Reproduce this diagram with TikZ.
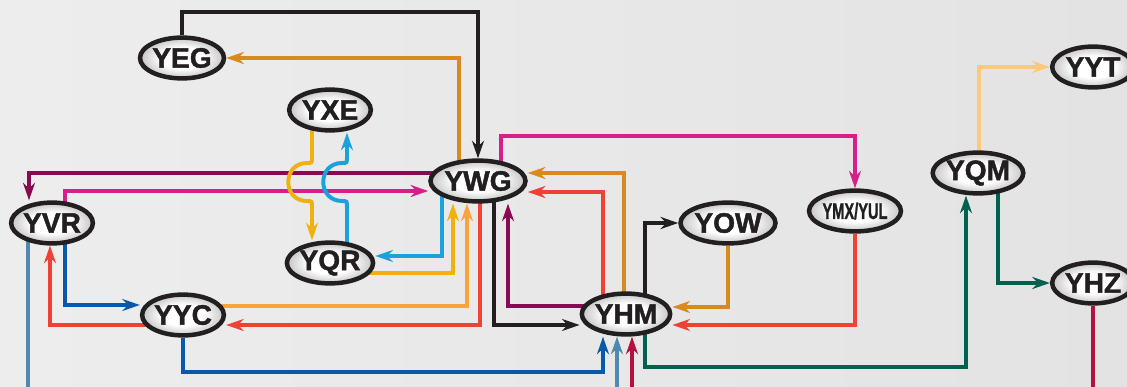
\documentclass[tikz,border=0pt]{standalone}
\usepackage{fontspec}
\setmainfont{Liberation Sans}
\newfontfamily\apfont{Liberation Sans}[BoldFeatures={FakeBold=1.6}]
\usepackage{xcolor}
\usepackage{graphicx}
\usepackage{tikz}
\usetikzlibrary{arrows.meta,shapes.geometric}
\definecolor{rblack}{HTML}{231F20}
\definecolor{rorange}{HTML}{D88A1C}
\definecolor{rplum}{HTML}{870A52}
\definecolor{rmagenta}{HTML}{D5208A}
\definecolor{rgold}{HTML}{F0B00E}
\definecolor{rcyan}{HTML}{1BA1DC}
\definecolor{rlightorange}{HTML}{F9A33B}
\definecolor{rred}{HTML}{EF4135}
\definecolor{rnavy}{HTML}{0A58A8}
\definecolor{rsteel}{HTML}{4E8AAE}
\definecolor{rcrimson}{HTML}{B3113F}
\definecolor{rteal}{HTML}{00614F}
\definecolor{rpeach}{HTML}{FFC77A}
\pgfdeclareradialshading{apsilver}{\pgfpoint{0bp}{0bp}}{color(0bp)=(white); color(13bp)=(white); color(29bp)=(black!30); color(41bp)=(black!48); color(50bp)=(black!58)}
\pgfdeclarelayer{bg}
\pgfdeclarelayer{routes}
\pgfsetlayers{bg,routes,main}
\tikzset{
  apvertex/.style={ellipse,draw=rblack,line width=3.2pt,shading=apsilver,minimum width=2.04cm,minimum height=1.02cm,inner sep=0pt,text=rblack,font=\apfont\fontsize{20}{22}\selectfont\bfseries},
  aparrow/.style={-{Stealth[length=4.4mm,width=3mm]},line width=2.8pt},
  apline/.style={line width=2.8pt}
}

\begin{document}
\begin{tikzpicture}[x=0.025cm,y=-0.025cm]
  \useasboundingbox (0,0) rectangle (1127,387);
  \begin{pgfonlayer}{bg}
    \shade[left color=black!7,middle color=black!14,right color=black!11] (0,0) rectangle (1127,387);
  \end{pgfonlayer}
  \node[apvertex] (yeg) at (182,58) {YEG};
  \node[apvertex] (yxe) at (330,110) {YXE};
  \node[apvertex] (yvr) at (52,223) {YVR};
  \node[apvertex] (yyc) at (183,315) {YYC};
  \node[apvertex] (yqr) at (330,263) {YQR};
  \node[apvertex] (ywg) at (478,181) {YWG};
  \node[apvertex] (yhm) at (626,314) {YHM};
  \node[apvertex] (yow) at (728,223) {YOW};
  \node[apvertex] (ymx) at (855,211) {\scalebox{0.65}[1]{\fontsize{16}{18}\selectfont YMX/YUL}};
  \node[apvertex] (yqm) at (978,173) {YQM};
  \node[apvertex] (yyt) at (1093,67) {YYT};
  \node[apvertex] (yhz) at (1093,283) {YHZ};
  \coordinate (vroff) at (28,392);
  \coordinate (hmoffa) at (617,392);
  \coordinate (hmoffb) at (632,392);
  \coordinate (hzoff) at (1093,392);
  \begin{pgfonlayer}{routes}
  \draw[aparrow,rblack] (yeg) -- (182,12) -| (ywg.north);
  \draw[aparrow,rorange] (ywg -| 459,0) -- (459,58) -- (yeg);
  \draw[aparrow,rplum] (ywg |- 0,173) -- (29,173) -- (yvr.north -| 29,0);
  \draw[aparrow,rmagenta] (yvr -| 65,0) -- (65,191) -- (ywg.west |- 0,191);
  \draw[aparrow,rgold] (yxe -| 312,0) -- (312,157) .. controls (312,163) .. (307,163) .. controls (282,163) and (282,201) .. (307,201) .. controls (312,201) .. (312,207) -- (yqr.north -| 312,0);
  \draw[aparrow,rcyan] (yqr -| 347,0) -- (347,207) .. controls (347,201) .. (342,201) .. controls (317,201) and (317,163) .. (342,163) .. controls (347,163) .. (347,157) -- (yxe.south -| 347,0);
  \draw[aparrow,rcyan] (ywg -| 442,0) -- (442,256) -- (yqr.east |- 0,256);
  \draw[aparrow,rgold] (yqr |- 0,273) -- (453,273) -- (ywg.south -| 453,0);
  \draw[aparrow,rlightorange] (yyc |- 0,306) -- (467,306) -- (ywg.south -| 467,0);
  \draw[aparrow,rred] (ywg -| 480,0) -- (480,325) -- (yyc.east |- 0,325);
  \draw[aparrow,rred] (yyc |- 0,325) -- (50,325) -- (yvr.south -| 50,0);
  \draw[aparrow,rnavy] (yvr -| 65,0) -- (65,305) -- (yyc.west |- 0,305);
  \draw[aparrow,rnavy] (yyc) -- (183,372) -| (yhm.south -| 603,0);
  \draw[apline,rsteel] (yvr -| 28,0) -- (vroff);
  \draw[aparrow,rsteel] (hmoffa) -- (yhm.south -| 617,0);
  \draw[aparrow,rcrimson] (hmoffb) -- (yhm.south -| 632,0);
  \draw[apline,rcrimson] (yhz) -- (hzoff);
  \draw[aparrow,rblack] (ywg -| 494,0) -- (494,325) -- (yhm.west |- 0,325);
  \draw[aparrow,rplum] (yhm |- 0,306) -- (508,306) -- (ywg.south -| 508,0);
  \draw[aparrow,rred] (yhm -| 603,0) -- (603,192) -- (ywg.east |- 0,192);
  \draw[aparrow,rorange] (yhm -| 624,0) -- (624,173) -- (ywg.east |- 0,173);
  \draw[aparrow,rmagenta] (ywg -| 501,0) -- (501,136) -| (ymx.north);
  \draw[aparrow,rblack] (yhm -| 645,0) -- (645,223) -- (yow);
  \draw[aparrow,rorange] (yow) -- (728,307) -- (yhm.east |- 0,307);
  \draw[aparrow,rred] (ymx) -- (855,325) -- (yhm.east |- 0,325);
  \draw[aparrow,rteal] (yhm -| 645,0) -- (645,367) -| (yqm.south -| 966,0);
  \draw[aparrow,rteal] (yqm -| 998,0) -- (998,283) -- (yhz);
  \draw[aparrow,rpeach] (yqm -| 979,0) -- (979,67) -- (yyt);
  \end{pgfonlayer}
\end{tikzpicture}
\end{document}
